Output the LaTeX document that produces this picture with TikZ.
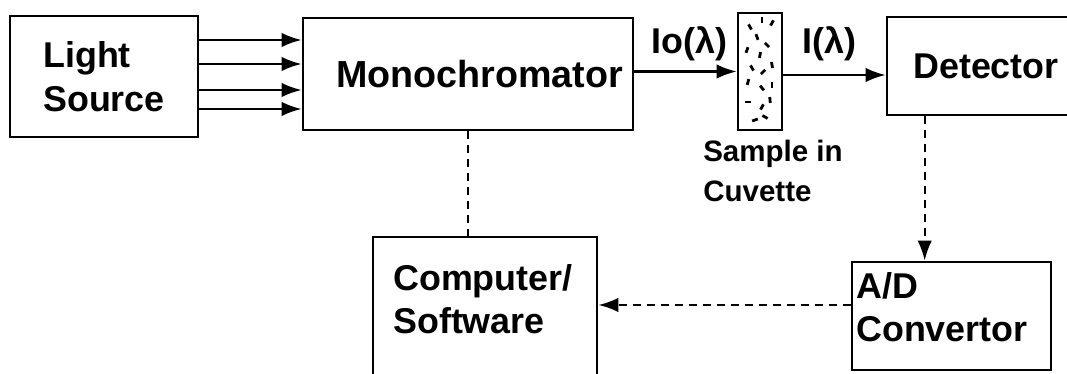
\documentclass[tikz,border=0pt]{standalone}
\usepackage{fontspec}
\setmainfont{Liberation Sans}
\usetikzlibrary{arrows.meta, positioning, calc}

\begin{document}
\begin{tikzpicture}[x=0.25mm, y=0.25mm,
  box/.style={draw, line width=0.65mm, inner sep=0pt},
  txt/.style={font=\bfseries\fontsize{25.5}{31}\selectfont, align=left},
  ray/.style={line width=0.6mm, -{Latex[length=5mm, width=3.6mm]}},
  link/.style={line width=0.6mm, dash pattern=on 2mm off 1.5mm}]
  \useasboundingbox (0, 0) rectangle (1067, 374);
  \clip (0, 0) rectangle (1067, 374);

  % optical path
  \node[box, txt, minimum width=47mm, minimum height=30.25mm] (light) at (104, 297.5) {Light\\Source};
  \node[box, txt, font=\bfseries\fontsize{26.8}{31}\selectfont, minimum width=82.5mm, minimum height=28mm, text width=77.5mm, align=right] (mono) at (468, 300) {Monochromator};
  \node[box, minimum width=11mm, minimum height=29.25mm] (cuv) at (760, 302.5) {};
  \node[box, txt, minimum width=49.5mm, minimum height=24.5mm] (det) at (986, 308) {Detector};
  \node[txt, inner sep=0pt, anchor=north west, font=\bfseries\fontsize{21}{28.4}\selectfont] (sample) at (703, 234) {Sample in\\Cuvette};

  % speckles in the cuvette
  \foreach \x/\y/\a in {750/347/120, 762/354/90, 772/351/60, 757/337/110, 747/324/70,
                        767/329/135, 760/319/80, 752/306/120, 763/302/45, 772/309/100,
                        748/292/75, 762/286/130, 772/289/90, 748/272/0, 762/267/60,
                        770/274/95, 765/257/150, 755/254/20}
    \draw[line width=0.7mm] (\x, \y) ++(\a:-3) -- ++(\a:6);

  % control side
  \node[box, minimum width=56mm, minimum height=40.75mm] (comp) at (485, 55.5) {};
  \node[txt, inner sep=0pt, anchor=north west] (comptxt) at (393, 110) {Computer/\\Software};
  \node[box, minimum width=49.75mm, minimum height=27mm] (ad) at (951.5, 58) {};
  \node[txt, inner sep=0pt, anchor=north west] (adtxt) at (856, 102) {A/D\\Convertor};

  % light beams
  \foreach \dy in {9.125, 3.125, -3.375, -8.125}
    \draw[ray] ([yshift=\dy mm]light.east) -- ([yshift=\dy mm]light.east -| mono.west);
  \draw[ray] (mono.east |- cuv.west) -- (cuv.west)
    node[midway, above=2.3mm, xshift=1mm, txt, inner sep=0pt] (io) {Io(λ)};
  \draw[ray] ([yshift=-0.875mm]cuv.east) -- ([yshift=-0.875mm]cuv.east -| det.west)
    node[midway, above=3.1mm, xshift=-1.2mm, txt, inner sep=0pt] (iout) {I(λ)};

  % signal lines
  \draw[link] (mono.south) -- (mono.south |- comp.north);
  \draw[ray, link] ([xshift=9.75mm]det.south west) -- ([xshift=9.75mm]det.south west |- ad.north);
  \draw[ray, link] ([yshift=2.75mm]ad.west) -- ([yshift=2.75mm]ad.west -| comp.east);
\end{tikzpicture}
\end{document}
